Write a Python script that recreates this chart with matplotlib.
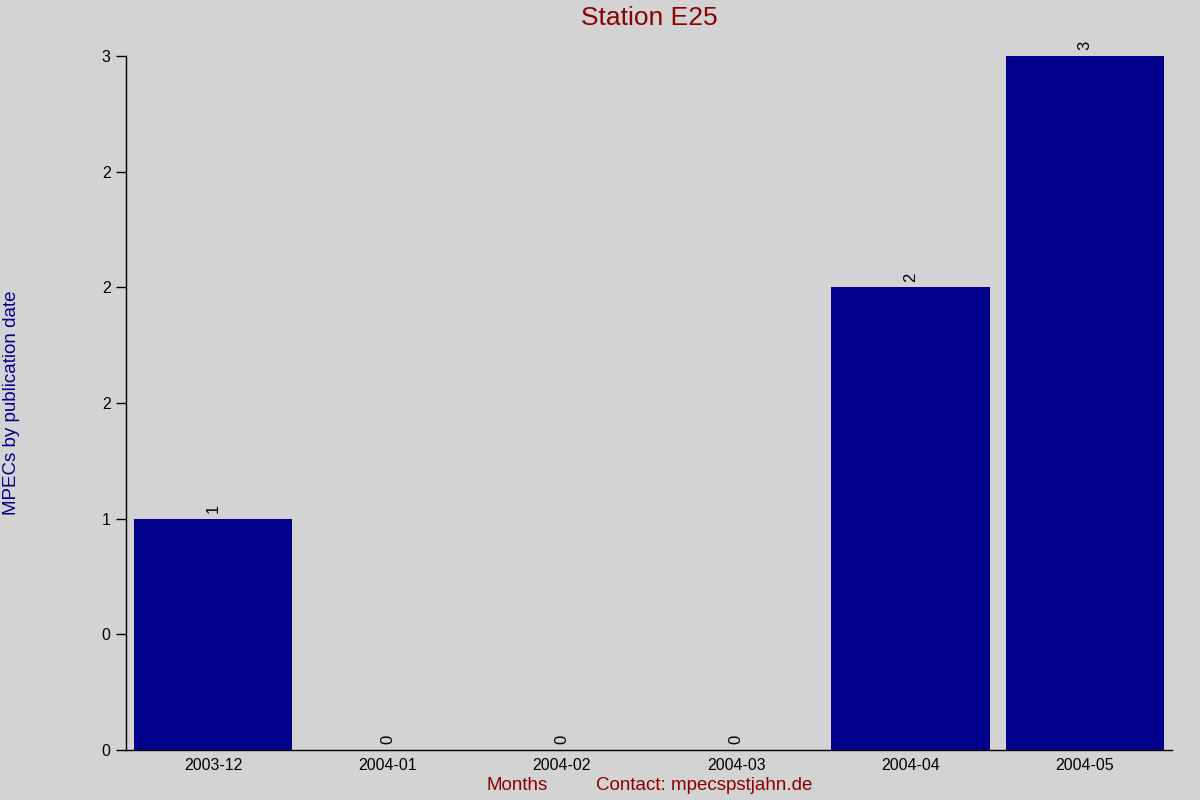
import matplotlib
matplotlib.use("Agg")
import matplotlib.pyplot as plt

months = ["2003-12", "2004-01", "2004-02", "2004-03", "2004-04", "2004-05"]
counts = [1, 0, 0, 0, 2, 3]
ytick_values = [0, 0.5, 1, 1.5, 2, 2.5, 3]
ytick_labels = ["0", "0", "1", "2", "2", "2", "3"]

plt.rcParams['font.family'] = ['Liberation Sans', 'DejaVu Sans']

bg = "#D3D3D3"
fig = plt.figure(figsize=(12, 8), dpi=100, facecolor=bg)
ax = fig.add_axes([0.105, 0.0625, 0.8717, 0.8675], facecolor=bg)

x = list(range(len(months)))
ax.bar(x, counts, width=0.907, color="#00008B", zorder=2)

for xi, c in zip(x, counts):
    ax.annotate(str(c), (xi, c), xytext=(0, 4), textcoords="offset points",
                rotation=90, ha="center", va="bottom", fontsize=12, color="black")

ax.set_xlim(-0.5, len(months) - 0.5)
ax.set_ylim(0, 3)
ax.set_xticks(x)
ax.set_xticklabels(months, fontsize=11.5)
ax.tick_params(axis="x", length=0, pad=6)
ax.set_yticks(ytick_values)
ax.set_yticklabels(ytick_labels, fontsize=11.5)
ax.tick_params(axis="y", length=7, width=1, direction="out", pad=4)

for s in ["top", "right"]:
    ax.spines[s].set_visible(False)
for s in ["left", "bottom"]:
    ax.spines[s].set_linewidth(1)
    ax.spines[s].set_color("black")

fig.text(0.541, 0.978, "Station E25", ha="center", va="center", fontsize=19, color="#8B0000")
fig.text(0.0095, 0.496, "MPECs by publication date", rotation=90, ha="center", va="center",
         fontsize=13.5, color="#00008B")
fig.text(0.431, 0.018, "Months", ha="center", va="center", fontsize=13.5, color="#8B0000")
fig.text(0.587, 0.018, "Contact: mpecspstjahn.de", ha="center", va="center", fontsize=13.5, color="#8B0000")

fig.savefig("out.png", dpi=100, facecolor=bg)
